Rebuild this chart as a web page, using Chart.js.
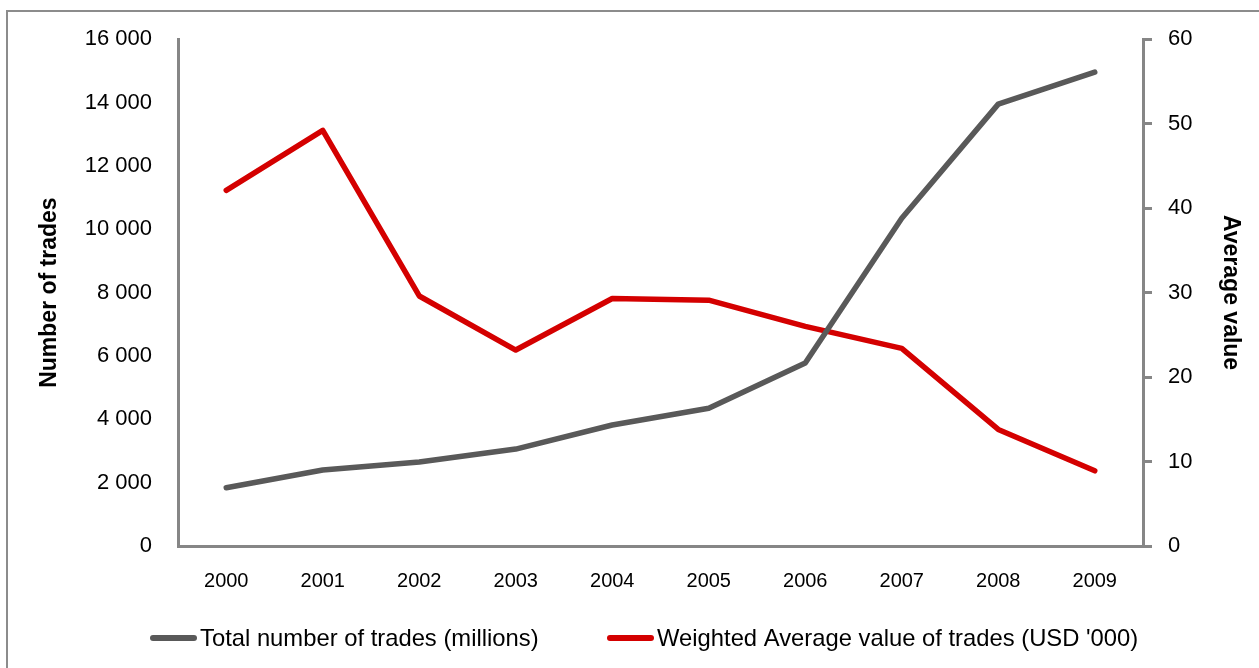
<!DOCTYPE html>
<html><head><meta charset="utf-8">
<script src="https://cdn.jsdelivr.net/npm/chart.js@4/dist/chart.umd.min.js"></script>
<style>html,body{margin:0;padding:0;background:#fff;overflow:hidden}#c{display:block}</style>
</head><body><canvas id="c" width="1259" height="668"></canvas>
<script>
const years = ['2000','2001','2002','2003','2004','2005','2006','2007','2008','2009'];
const totalTrades = [1840, 2400, 2650, 3060, 3820, 4350, 5780, 10350, 13950, 14960];
const avgValue = [42.1, 49.2, 29.6, 23.2, 29.3, 29.1, 26.0, 23.4, 13.8, 8.9];
const leftTicks = [0, 2000, 4000, 6000, 8000, 10000, 12000, 14000, 16000];
const rightTicks = [0, 10, 20, 30, 40, 50, 60];
const FONT = 'Liberation Sans';

const framePlugin = {
  id: 'frame',
  beforeDraw(chart) {
    const ctx = chart.ctx;
    ctx.save();
    ctx.fillStyle = '#fff';
    ctx.fillRect(0, 0, chart.width, chart.height);
    ctx.strokeStyle = '#8c8c8c';
    ctx.lineWidth = 2;
    ctx.strokeRect(7, 11, 1300, 700);
    ctx.restore();
  }
};

// legend drawn from the dataset labels/colours, placed below the x axis
const legendPlugin = {
  id: 'bottomLegend',
  afterDraw(chart) {
    const ctx = chart.ctx;
    const starts = [150, 607];
    const y = 638;
    ctx.save();
    ctx.font = '23.8px "' + FONT + '"';
    ctx.textBaseline = 'middle';
    ctx.textAlign = 'left';
    chart.data.datasets.forEach((d, i) => {
      const x = starts[i];
      ctx.strokeStyle = d.borderColor;
      ctx.lineWidth = 6;
      ctx.lineCap = 'round';
      ctx.beginPath();
      ctx.moveTo(x + 3, y);
      ctx.lineTo(x + 44, y);
      ctx.stroke();
      ctx.fillStyle = '#000';
      ctx.fillText(d.label, x + 50, y + 1);
    });
    ctx.restore();
  }
};

new Chart(document.getElementById('c'), {
  type: 'line',
  data: {
    labels: years,
    datasets: [
      { label: 'Total number of trades (millions)', data: totalTrades, yAxisID: 'y',
        borderColor: '#595959', backgroundColor: '#595959', borderWidth: 5.5, pointRadius: 0,
        tension: 0, borderCapStyle: 'round', borderJoinStyle: 'round' },
      { label: "Weighted Average value of trades (USD '000)", data: avgValue, yAxisID: 'y1',
        borderColor: '#d40000', backgroundColor: '#d40000', borderWidth: 5.5, pointRadius: 0,
        tension: 0, borderCapStyle: 'round', borderJoinStyle: 'round' }
    ]
  },
  plugins: [framePlugin, legendPlugin],
  options: {
    responsive: false, maintainAspectRatio: false, animation: false, devicePixelRatio: 1,
    layout: { padding: { top: 38, left: 0, right: 0, bottom: 60 } },
    plugins: {
      tooltip: { enabled: false },
      legend: { display: false }
    },
    scales: {
      x: {
        offset: true,
        grid: { display: false, drawTicks: false },
        border: { color: '#868686', width: 3 },
        ticks: { font: { family: FONT, size: 20 }, color: '#000', padding: 23, maxRotation: 0 },
        afterFit(s) { s.height = 62; }
      },
      y: {
        position: 'left', min: 0, max: 16000,
        afterBuildTicks(s) { s.ticks = leftTicks.map(v => ({ value: v })); },
        grid: { display: false, drawTicks: false },
        border: { color: '#868686', width: 3 },
        ticks: { font: { family: FONT, size: 22 }, color: '#000', padding: 26,
          callback: v => String(v).replace(/\B(?=(\d{3})+(?!\d))/g, ' ') },
        title: { display: true, text: 'Number of trades', color: '#000',
          font: { family: FONT, size: 23, weight: 'bold' }, padding: { top: 36, bottom: 0 } },
        afterFit(s) { s.width = 178; }
      },
      y1: {
        position: 'right', min: 0, max: 60,
        afterBuildTicks(s) { s.ticks = rightTicks.map(v => ({ value: v })); },
        grid: { display: true, drawOnChartArea: false, drawTicks: true, tickLength: 9, color: '#868686', lineWidth: 3 },
        border: { color: '#868686', width: 3 },
        ticks: { font: { family: FONT, size: 22 }, color: '#000', padding: 16 },
        title: { display: true, text: 'Average value', color: '#000',
          font: { family: FONT, size: 23, weight: 'bold' }, padding: { top: 15, bottom: 0 } },
        afterFit(s) { s.width = 116; }
      }
    }
  }
});
</script></body></html>
